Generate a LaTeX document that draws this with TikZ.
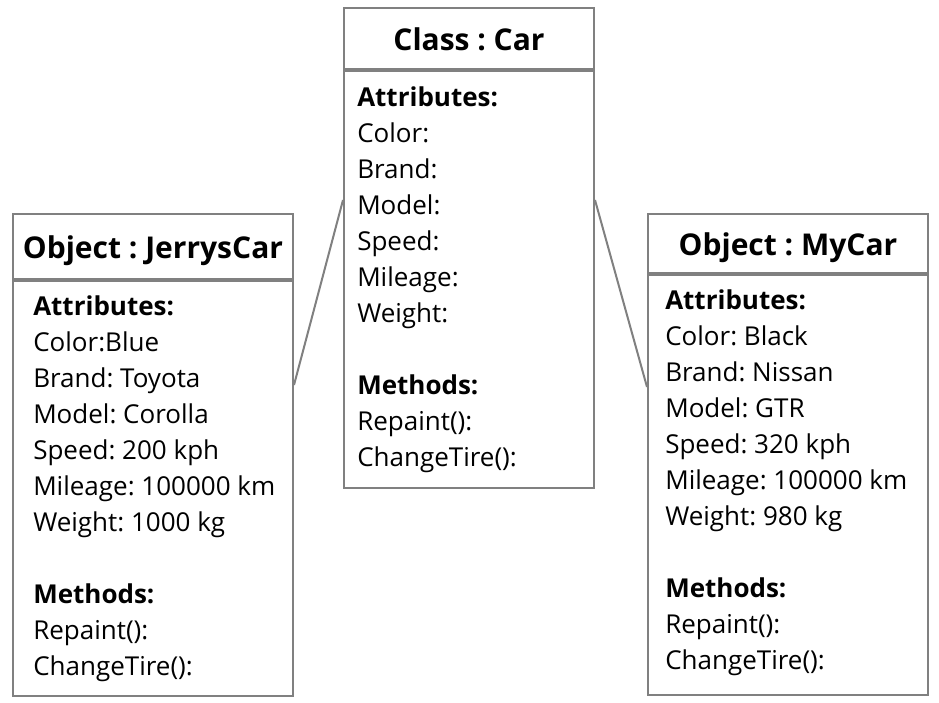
\documentclass[tikz,border=0pt]{standalone}
\usepackage{fontspec}
\setmainfont{Open Sans}
\usetikzlibrary{positioning,calc}
\definecolor{edge}{HTML}{808080}
\frenchspacing
\tikzset{
  boxline/.style={draw=edge, line width=1.5pt},
  hdr/.style={boxline, inner sep=0pt, font=\bfseries\fontsize{22.5}{28}\selectfont,
    text height=22.5pt, text depth=4pt},
  bodybox/.style={boxline, inner sep=0pt},
  members/.style={inner sep=0pt, align=left, font=\fontsize{19.5}{27}\selectfont},
  link/.style={draw=edge, line width=1.5pt},
}
\begin{document}
\begin{tikzpicture}[x=0.75pt,y=-0.75pt]
\useasboundingbox (0,0) rectangle (939,703);

% ---- class ------------------------------------------------------------------
\node[hdr, minimum width=187.5pt, minimum height=45.75pt, anchor=north west]
  (carH) at (343,7) {Class : Car};
\node[bodybox, minimum width=187.5pt, minimum height=312.75pt, anchor=north west]
  (carB) at (carH.south west) {};
\node[members, anchor=north west] (carM) at ($(carB.north west)+(14,16)$)
  {\textbf{Attributes:}\\ Color:\\ Brand:\\ Model:\\ Speed:\\ Mileage:\\ Weight:\\[27pt]
   \textbf{Methods:}\\ Repaint():\\ ChangeTire():};

% ---- object : JerrysCar -----------------------------------------------------
\node[hdr, minimum width=210pt, minimum height=48.75pt, anchor=north west]
  (jerH) at (12,213) {Object : JerrysCar};
\node[bodybox, minimum width=210pt, minimum height=311.25pt, anchor=north west]
  (jerB) at (jerH.south west) {};
\node[members, anchor=north west] (jerM) at ($(jerB.north west)+(21,15)$)
  {\textbf{Attributes:}\\ Color:Blue\\ Brand: Toyota\\ Model: Corolla\\ Speed: 200 kph\\
   Mileage: 100000 km\\ Weight: 1000 kg\\[27pt]
   \textbf{Methods:}\\ Repaint():\\ ChangeTire():};

% ---- object : MyCar ---------------------------------------------------------
\node[hdr, minimum width=210pt, minimum height=44.25pt, anchor=north west]
  (myH) at (647,213) {Object : MyCar};
\node[bodybox, minimum width=210pt, minimum height=315pt, anchor=north west]
  (myB) at (myH.south west) {};
\node[members, anchor=north west] (myM) at ($(myB.north west)+(18,15)$)
  {\textbf{Attributes:}\\ Color: Black\\ Brand: Nissan\\ Model: GTR\\ Speed: 320 kph\\
   Mileage: 100000 km\\ Weight: 980 kg\\[27pt]
   \textbf{Methods:}\\ Repaint():\\ ChangeTire():};

% ---- instance links ---------------------------------------------------------
\draw[link] ($(carB.north west)+(0,130)$) -- ($(jerB.north east)+(0,105)$);
\draw[link] ($(carB.north east)+(0,130)$) -- ($(myB.north west)+(0,113)$);

\end{tikzpicture}
\end{document}
